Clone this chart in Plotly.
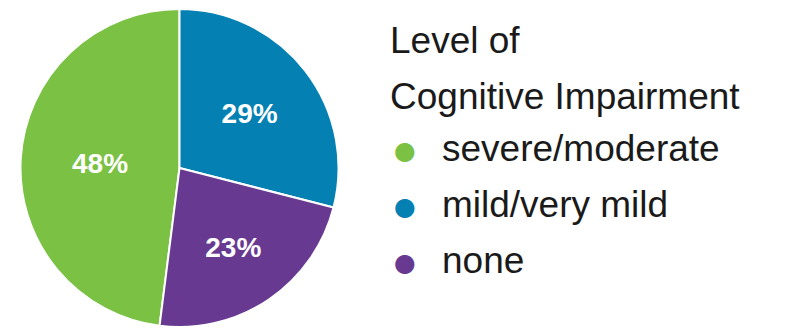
import plotly.graph_objects as go

# Share of residents by level of cognitive impairment
categories = ["severe/moderate", "mild/very mild", "none"]
shares = [48, 29, 23]
colors = ["#7BC143", "#0480B2", "#673990"]
legend_title = ["Level of", "Cognitive Impairment"]

W, H = 790, 328
cx, cy, r = 179.5, 168, 159  # pie centre and radius in pixels

fig = go.Figure()
fig.add_trace(go.Pie(
    labels=categories,
    values=shares,
    sort=False,
    direction="clockwise",
    rotation=360 * (1 - shares[0] / sum(shares)),
    marker=dict(colors=colors, line=dict(color="white", width=2)),
    texttemplate="%{value}%",
    textposition="inside",
    insidetextorientation="horizontal",
    textfont=dict(family="Liberation Sans, Arial, sans-serif", size=28,
                  color="white", weight="bold"),
    showlegend=False,
    hoverinfo="label+percent",
    domain=dict(x=[(cx - r) / W, (cx + r) / W],
                y=[1 - (cy + r) / H, 1 - (cy - r) / H]),
))

font = dict(family="Liberation Sans, Arial, sans-serif", size=37, color="#1a1a1a")
ann = []
title_y = [40, 96]
for text, y in zip(legend_title, title_y):
    ann.append(dict(x=388 / W, y=1 - y / H, xref="paper", yref="paper",
                    xanchor="left", yanchor="middle", text=text,
                    showarrow=False, font=font))

item_y = [150, 206, 262]
for name, col, y in zip(categories, colors, item_y):
    ann.append(dict(x=405 / W, y=1 - y / H, xref="paper", yref="paper",
                    xanchor="center", yanchor="middle", text="●",
                    showarrow=False,
                    font=dict(family="DejaVu Sans", size=25, color=col)))
    ann.append(dict(x=440 / W, y=1 - (y - 2) / H, xref="paper", yref="paper",
                    xanchor="left", yanchor="middle", text=name,
                    showarrow=False, font=font))

fig.update_layout(
    width=W, height=H,
    margin=dict(l=0, r=0, t=0, b=0),
    paper_bgcolor="white", plot_bgcolor="white",
    annotations=ann,
)

fig.write_html("out.html")
